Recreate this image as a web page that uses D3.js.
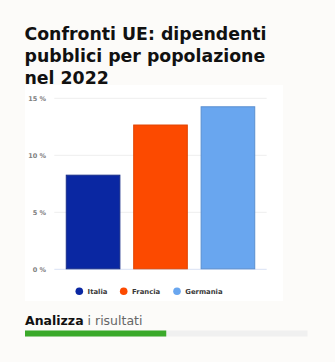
<!DOCTYPE html>
<html>
<head>
<meta charset="utf-8">
<script src="https://cdn.jsdelivr.net/npm/d3@7/dist/d3.min.js"></script>
<style>
  html, body { margin: 0; padding: 0; background: #fcfbf9; }
  svg { display: block; }
</style>
</head>
<body>
<svg id="chart" width="335" height="362"></svg>
<script>
const categories = ["Italia", "Francia", "Germania"];
const values = [8.3, 12.7, 14.3];
const colors = ["#0a27a2", "#fc4a00", "#69a6ef"];
const strokes = ["#1a2f8a", "#e04400", "#5a8fd0"];
const yTicks = [0, 5, 10, 15];
const titleLines = ["Confronti UE: dipendenti", "pubblici per popolazione", "nel 2022"];
const footerBold = "Analizza";
const footerLight = " i risultati";
const progress = 0.5;

const svg = d3.select("#chart");
const FONT = "'DejaVu Sans', sans-serif";

// card
svg.append("rect").attr("x", 25).attr("y", 85).attr("width", 258).attr("height", 216).attr("fill", "#ffffff");

// title
const title = svg.append("g");
titleLines.forEach((t, i) => {
  title.append("text")
    .attr("x", 24.5).attr("y", 40.3 + i * 22)
    .attr("font-family", FONT).attr("font-weight", "bold")
    .attr("font-size", 17).attr("fill", "#111")
    .text(t);
});
const w0 = title.select("text").node().getComputedTextLength();
title.selectAll("text").attr("font-size", 17 * 242 / w0);

const y = d3.scaleLinear().domain([0, 15]).range([269.3, 98.3]);
const x = d3.scaleBand().domain(categories).range([54.3, 266.7]).paddingInner(0.19).paddingOuter(0.17);

// gridlines
const grid = svg.append("g");
yTicks.forEach(t => {
  grid.append("line")
    .attr("x1", 54.3).attr("x2", 266.7)
    .attr("y1", y(t)).attr("y2", y(t))
    .attr("stroke", t === 0 ? "#d9e2f4" : "#eeeeee").attr("stroke-width", 1);
});

// y axis labels
const yAxis = d3.axisLeft(y).tickValues(yTicks).tickSize(0).tickPadding(0).tickFormat(d => d + " %");
const ya = svg.append("g").attr("transform", "translate(46,0)").call(yAxis);
ya.select(".domain").remove();
ya.selectAll("text").attr("font-family", FONT).attr("font-size", 6.5).attr("font-weight", "bold").attr("fill", "#808080");

// bars
svg.append("g").selectAll("rect").data(categories).join("rect")
  .attr("x", d => x(d) + 0.5)
  .attr("y", (d, i) => y(values[i]) + 0.5)
  .attr("width", x.bandwidth() - 1)
  .attr("height", (d, i) => y(0) - y(values[i]) - 1)
  .attr("fill", (d, i) => colors[i])
  .attr("stroke", (d, i) => strokes[i])
  .attr("stroke-width", 1);

// legend
const legendX = [79.3, 123.7, 177];
const lg = svg.append("g");
const lt = [];
categories.forEach((c, i) => {
  lg.append("circle").attr("cx", legendX[i]).attr("cy", 291.3).attr("r", 3.8).attr("fill", colors[i]);
  lt.push(lg.append("text").attr("x", legendX[i] + 8.3).attr("y", 294.2)
    .attr("font-family", FONT).attr("font-size", 8).attr("font-weight", "bold").attr("fill", "#3a3a3a")
    .text(c));
});
const gw = lt[2].node().getComputedTextLength();
lt.forEach(t => t.attr("font-size", 8 * 37.4 / gw));

// footer
const ft = svg.append("text").attr("x", 25).attr("y", 324.5)
  .attr("font-family", FONT).attr("font-size", 12.5).attr("fill", "#111");
ft.append("tspan").attr("font-weight", "bold").text(footerBold);
ft.append("tspan").attr("font-weight", "normal").attr("fill", "#666").text(footerLight);

const barScale = d3.scaleLinear().domain([0, 1]).range([25, 307.5]);
svg.append("rect").attr("x", 25).attr("y", 330.5).attr("width", barScale(1) - 25).attr("height", 6).attr("fill", "#f0f0f0");
svg.append("rect").attr("x", 25).attr("y", 330.5).attr("width", barScale(progress) - 25).attr("height", 6).attr("fill", "#3aa92a");
</script>
</body>
</html>
